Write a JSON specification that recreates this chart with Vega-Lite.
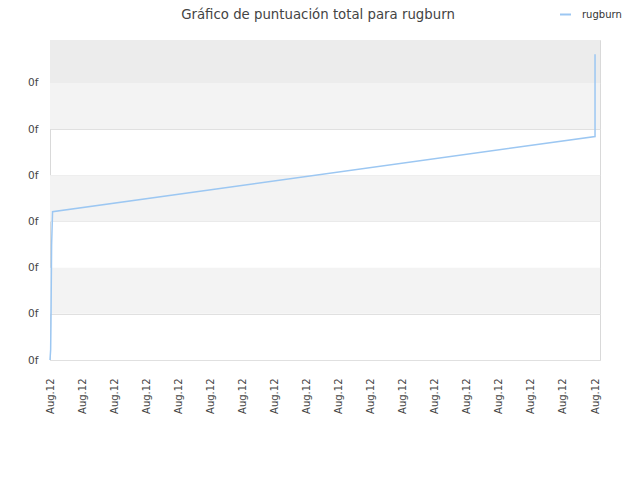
{
  "$schema": "https://vega.github.io/schema/vega-lite/v6.json",
  "width": 550,
  "height": 320,
  "autosize": {"type": "none"},
  "padding": {"left": 50, "top": 40, "right": 40, "bottom": 120},
  "background": "white",
  "title": {
    "text": "Gráfico de puntuación total para rugburn",
    "font": "DejaVu Sans",
    "fontSize": 13.3,
    "fontWeight": "normal",
    "color": "#444444",
    "anchor": "middle",
    "offset": -13,
    "dx": -7
  },
  "config": {
    "view": {"stroke": "#d9d9d9", "strokeWidth": 1},
    "axis": {"labelFont": "DejaVu Sans", "labelColor": "#444444", "labelFontSize": 10}
  },
  "datasets": {
    "topband": [{"lo": 6, "hi": 6.93}],
    "bands": [{"lo": 5, "hi": 6}, {"lo": 3, "hi": 4}, {"lo": 1, "hi": 2}],
    "series": [
      {"i": 0, "t": 0, "score": 0, "player": "rugburn"},
      {"i": 1, "t": 0.02, "score": 0.22, "player": "rugburn"},
      {"i": 2, "t": 0.03, "score": 0.8, "player": "rugburn"},
      {"i": 3, "t": 0.05, "score": 2.49, "player": "rugburn"},
      {"i": 4, "t": 0.08, "score": 3.21, "player": "rugburn"},
      {"i": 5, "t": 17, "score": 4.84, "player": "rugburn"},
      {"i": 6, "t": 17, "score": 6.62, "player": "rugburn"}
    ]
  },
  "layer": [
    {
      "data": {"name": "topband"},
      "mark": {"type": "rect", "fill": "#ececec"},
      "encoding": {
        "y": {"field": "lo", "type": "quantitative", "scale": {"domain": [0, 6.93], "nice": false, "zero": false},
          "axis": {"values": [0, 1, 2, 3, 4, 5, 6], "labelExpr": "'0f'", "title": null, "domain": false, "ticks": false, "grid": true, "gridColor": "#e0e0e0", "labelPadding": 12, "labelFontSize": 10.5}},
        "y2": {"field": "hi"}
      }
    },
    {
      "data": {"name": "bands"},
      "mark": {"type": "rect", "fill": "#f3f3f3"},
      "encoding": {
        "y": {"field": "lo", "type": "quantitative"},
        "y2": {"field": "hi"}
      }
    },
    {
      "data": {"name": "series"},
      "mark": {"type": "line", "strokeWidth": 1.5, "interpolate": "linear"},
      "encoding": {
        "x": {"field": "t", "type": "quantitative", "scale": {"domain": [0, 17.155], "nice": false, "zero": false},
          "axis": {"values": [0, 1, 2, 3, 4, 5, 6, 7, 8, 9, 10, 11, 12, 13, 14, 15, 16, 17], "labelExpr": "'Aug.12'", "labelAngle": -90, "title": null, "domain": false, "ticks": false, "grid": false, "labelPadding": 18}},
        "y": {"field": "score", "type": "quantitative"},
        "order": {"field": "i", "type": "quantitative"},
        "color": {"field": "player", "type": "nominal", "scale": {"range": ["#9cc7f2"]},
          "legend": {"title": null, "orient": "none", "legendX": 509, "legendY": -32, "symbolType": "stroke", "symbolSize": 121, "symbolStrokeWidth": 2, "labelFont": "DejaVu Sans", "labelFontSize": 10, "labelColor": "#333333", "labelOffset": 10}}
      }
    }
  ]
}
